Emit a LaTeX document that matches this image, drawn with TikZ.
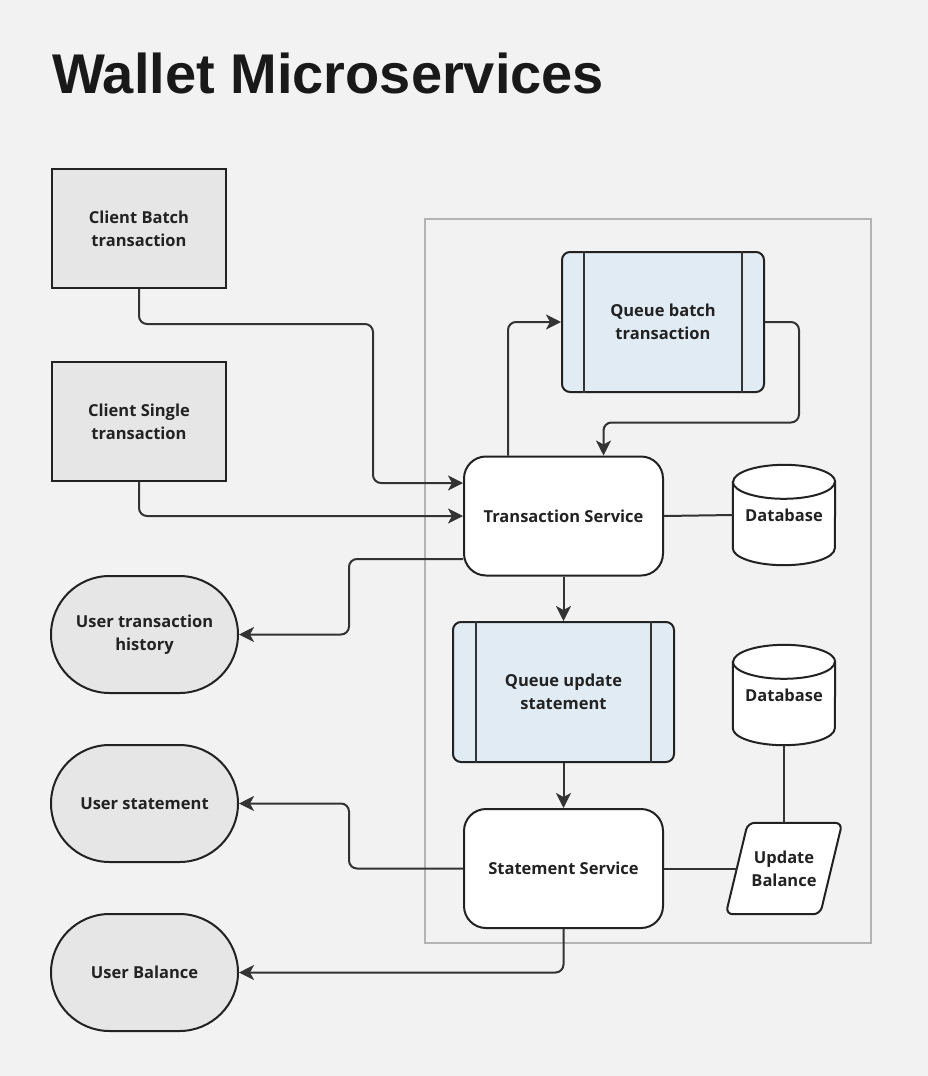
\documentclass[tikz,border=0pt]{standalone}
\usepackage{fontspec}
\setmainfont{Open Sans}
\newfontfamily\titlefont{Liberation Sans}
\usetikzlibrary{arrows.meta,calc,backgrounds}
\definecolor{pagebg}{HTML}{F2F2F2}
\definecolor{boxgray}{HTML}{E6E6E6}
\definecolor{queueblue}{HTML}{E1EBF3}
\definecolor{inkdark}{HTML}{222222}
\definecolor{linkdark}{HTML}{333333}
\definecolor{framegray}{HTML}{B3B3B3}
\begin{document}
\begin{tikzpicture}[x=1pt, y=1pt,
    every node/.style={font=\bfseries\fontsize{16.5}{23}\selectfont, text=inkdark, align=center},
    clientbox/.style={draw=inkdark, line width=2pt, fill=boxgray, minimum width=174, minimum height=119},
    userbox/.style={draw=inkdark, line width=2pt, fill=boxgray, rounded corners=58.5pt, minimum width=187, minimum height=117},
    servicebox/.style={draw=inkdark, line width=2pt, fill=white, rounded corners=22pt, minimum width=199, minimum height=119},
    queuebox/.style={draw=inkdark, line width=2pt, fill=queueblue, rounded corners=8pt, minimum height=140},
    plainbox/.style={minimum width=102, minimum height=100},
    flow/.style={draw=linkdark, line width=2pt, rounded corners=8pt, -{Stealth[length=15pt, width=15pt, inset=4pt]}},
    link/.style={draw=linkdark, line width=2pt}]
    % Draw page background
    \begin{scope}[on background layer]
        \fill[pagebg] (0,0) rectangle (928,-1076);
    \end{scope}
    \useasboundingbox (0,0) rectangle (928,-1076);
    % Add title
    \node[anchor=base west, inner sep=0, font=\titlefont\bfseries\fontsize{56}{60}\selectfont, text=black!90] (title) at (52,-93) {Wallet Microservices};
    % Draw service frame
    \draw[draw=framegray, line width=2pt] (425,-219) rectangle (871,-943);
    % Add client boxes
    \node[clientbox] (cbatch) at (139,-228.5) {Client Batch\\transaction};
    \node[clientbox] (csingle) at (139,-421.5) {Client Single\\transaction};
    % Add queues
    \node[queuebox, minimum width=202] (qbatch) at (663,-322) {Queue batch\\transaction};
    \draw[link] ($(qbatch.north west)+(23,0)$) -- ($(qbatch.south west)+(23,0)$);
    \draw[link] ($(qbatch.north east)+(-23,0)$) -- ($(qbatch.south east)+(-23,0)$);
    \node[queuebox, minimum width=221] (qupdate) at (563.5,-692) {Queue update\\statement};
    \draw[link] ($(qupdate.north west)+(24,0)$) -- ($(qupdate.south west)+(24,0)$);
    \draw[link] ($(qupdate.north east)+(-24,0)$) -- ($(qupdate.south east)+(-24,0)$);
    % Add services
    \node[servicebox] (tservice) at (563.5,-516) {Transaction Service};
    \node[servicebox] (sservice) at (563.5,-868.5) {Statement Service};
    % Add databases
    \node[plainbox] (dbtrans) at (784,-515) {Database};
    \node[plainbox] (dbstate) at (784,-695) {Database};
    \begin{scope}[on background layer]
        \foreach \db in {dbtrans,dbstate} {
            \draw[draw=inkdark, line width=2pt, fill=white]
                ($(\db.north west)+(0,-17)$) -- ($(\db.south west)+(0,17)$)
                arc[start angle=180, end angle=360, x radius=51, y radius=17]
                -- ($(\db.north east)+(0,-17)$)
                arc[start angle=0, end angle=180, x radius=51, y radius=17] -- cycle;
            \draw[draw=inkdark, line width=2pt] ($(\db.north west)+(0,-17)$)
                arc[start angle=180, end angle=360, x radius=51, y radius=17];
        }
    \end{scope}
    % Add update step
    \node[plainbox, minimum width=116, minimum height=91] (upbal) at (784,-868.5) {Update\\Balance};
    \begin{scope}[on background layer]
        \draw[draw=inkdark, line width=2pt, fill=white, rounded corners=7pt]
            ($(upbal.north west)+(22,0)$) -- (upbal.north east)
            -- ($(upbal.south east)+(-22,0)$) -- (upbal.south west) -- cycle;
    \end{scope}
    % Add user views
    \node[userbox] (uhistory) at (144.5,-634.5) {User transaction\\history};
    \node[userbox] (ustatement) at (144.5,-803.5) {User statement};
    \node[userbox] (ubalance) at (144.5,-972.5) {User Balance};
    % Draw client flows
    \draw[flow] (cbatch.south) -- ++(0,-35) -| ($(tservice.west)+(-90,33)$) -- ($(tservice.west)+(0,33)$);
    \draw[flow] (csingle.south) |- (tservice.west);
    % Draw batch queue loop
    \draw[flow] ($(tservice.north)+(-55.5,0)$) |- (qbatch.west);
    \draw[flow] (qbatch.east) -- ++(34,0) |- ($(tservice.north)+(40,33)$) -- ($(tservice.north)+(40,0)$);
    % Draw service links
    \draw[link] (tservice.east) -- (dbtrans.west);
    \draw[flow] (tservice.south) -- (qupdate.north);
    \draw[flow] (qupdate.south) -- (sservice.north);
    \draw[link] (sservice.east) -- ($(upbal.west)+(11,0)$);
    \draw[link] (dbstate.south) -- (upbal.north);
    % Draw output flows
    \draw[flow] ($(tservice.west)+(0,-43)$) -- ++(-114,0) |- (uhistory.east);
    \draw[flow] (sservice.west) -- ++(-114,0) |- (ustatement.east);
    \draw[flow] (sservice.south) |- (ubalance.east);
\end{tikzpicture}
\end{document}
